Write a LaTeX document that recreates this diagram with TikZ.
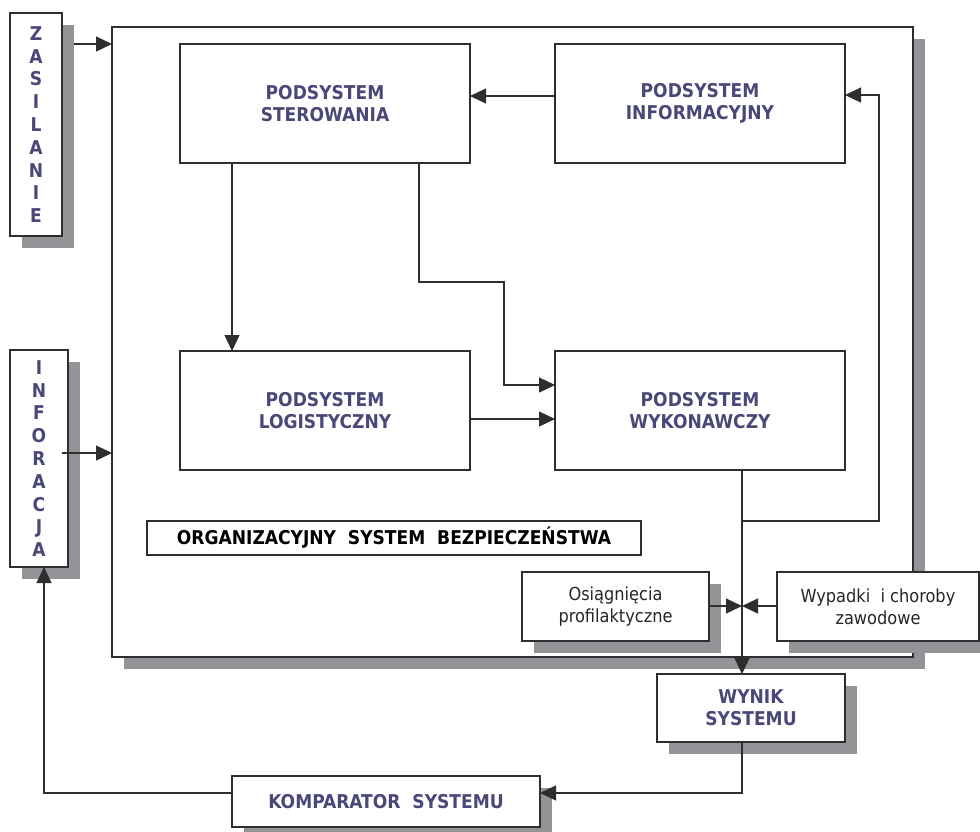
\documentclass[tikz,border=0pt]{standalone}
\usepackage{fontspec}
\setmainfont{DejaVu Sans}
\newfontfamily\condf{DejaVu Sans Condensed}
\usetikzlibrary{arrows.meta,shadows}
\definecolor{txtblue}{HTML}{4A4878}
\definecolor{shgray}{HTML}{939398}
\definecolor{ln}{HTML}{2E2E2E}
\tikzset{
  box/.style={draw=ln, line width=1.4pt, fill=white, inner sep=0pt, outer sep=0pt, align=center},
  shbox/.style={box, drop shadow={shadow xshift=12pt, shadow yshift=-12pt, fill=shgray, opacity=1}},
  btxt/.style={font=\condf\fontsize{19}{22}\selectfont\bfseries, text=txtblue},
  vtxt/.style={font=\condf\fontsize{19}{22.8}\selectfont\bfseries, text=txtblue},
  rtxt/.style={font=\condf\fontsize{18}{22}\selectfont, text=black!85},
  arr/.style={draw=ln, line width=1.2pt, -{Triangle[length=16pt,width=15pt]}},
}
\begin{document}
\begin{tikzpicture}[x=1pt,y=-1pt]
\useasboundingbox (0,0) rectangle (980,831);
% main system box
\node[shbox, minimum width=801pt, minimum height=630pt] (main) at (512.5,342) {};
% side boxes
\node[shbox, vtxt, minimum width=52pt, minimum height=223pt] (zas) at (36,124.5) {Z\\A\\S\\I\\L\\A\\N\\I\\E};
\node[shbox, vtxt, minimum width=58pt, minimum height=217pt] (inf) at (39,458.5) {I\\N\\F\\O\\R\\A\\C\\J\\A};
% subsystems
\node[box, btxt, minimum width=290pt, minimum height=119pt] (ster) at (325,103.5) {PODSYSTEM\\STEROWANIA};
\node[box, btxt, minimum width=290pt, minimum height=119pt] (info) at (700,103.5) {PODSYSTEM\\INFORMACYJNY};
\node[box, btxt, minimum width=290pt, minimum height=119pt] (log) at (325,410.5) {PODSYSTEM\\LOGISTYCZNY};
\node[box, btxt, minimum width=290pt, minimum height=119pt] (wyk) at (700,410.5) {PODSYSTEM\\WYKONAWCZY};
\node[box, font=\condf\fontsize{19}{20}\selectfont\bfseries, text=black, minimum width=494pt, minimum height=34pt] (org) at (394,538) {ORGANIZACYJNY\ \ SYSTEM\ \ BEZPIECZEŃSTWA};
\node[shbox, rtxt, minimum width=187pt, minimum height=69pt] (osi) at (615.5,606.5) {Osiągnięcia\\profilaktyczne};
\node[shbox, rtxt, minimum width=202pt, minimum height=69pt] (wyp) at (878,606.5) {Wypadki\ \ i choroby\\zawodowe};
\node[shbox, btxt, minimum width=188pt, minimum height=68pt] (wyn) at (751,708) {WYNIK\\SYSTEMU};
\node[shbox, btxt, minimum width=308pt, minimum height=51pt] (kom) at (386,801.5) {KOMPARATOR\ \ SYSTEMU};
% helper coordinates
\coordinate (zasout) at (74,44);
\coordinate (infout) at (62,453);
\coordinate (j1) at (742,521);
\coordinate (j2) at (742,606);
% connectors
\draw[arr] (zasout) -- (main.west |- zasout);
\draw[arr] (infout) -- (main.west |- infout);
\draw[arr] (info.west |- 0,96) -- (ster.east |- 0,96);
\draw[arr] (ster.south -| 232,0) -- (log.north -| 232,0);
\draw[arr] (ster.south -| 419,0) -- (419,282) -- (504,282) -- (504,385) -- (wyk.west |- 0,385);
\draw[arr] (log.east |- 0,419) -- (wyk.west |- 0,419);
\draw[arr] (wyk.south -| j1) -- (wyn.north -| j1);
\draw[arr] (j1) -- (879,521) -- (879,95) -- (info.east |- 0,95);
\draw[arr] (osi.east |- j2) -- (j2);
\draw[arr] (wyp.west |- j2) -- (j2);
\draw[arr] (wyn.south -| j1) -- (742,793) -- (kom.east |- 0,793);
\draw[arr] (kom.west |- 0,793) -- (44,793) -- (inf.south -| 44,0);
\end{tikzpicture}
\end{document}
